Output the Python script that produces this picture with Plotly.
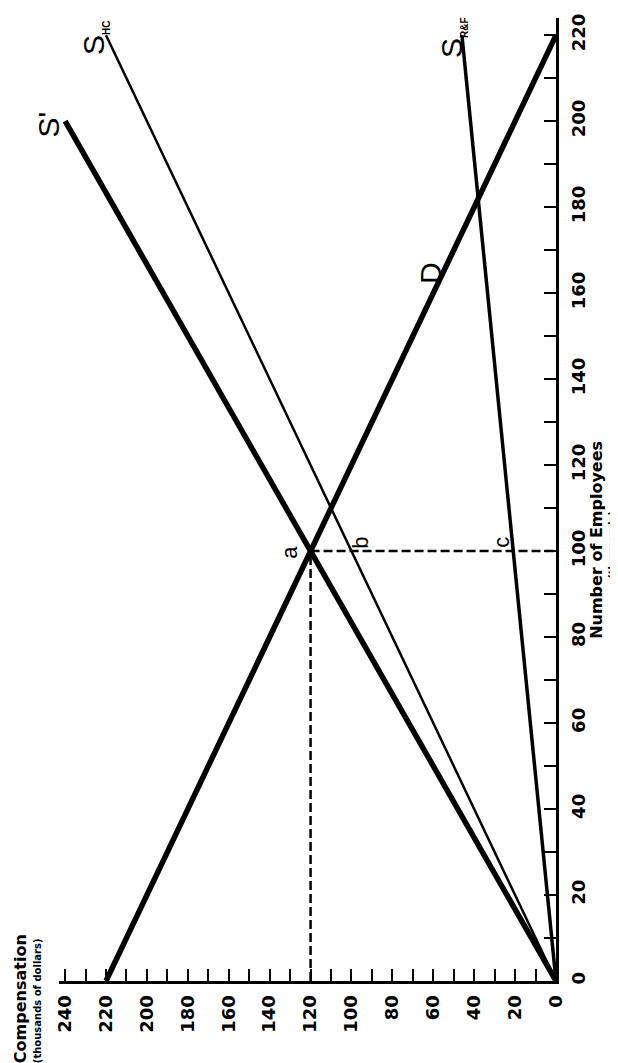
import plotly.graph_objects as go

# ---- data (x = compensation, thousands of dollars; y = employees, thousands) ----
comp_ticks = [0, 20, 40, 60, 80, 100, 120, 140, 160, 180, 200, 220, 240]
emp_ticks = [0, 20, 40, 60, 80, 100, 120, 140, 160, 180, 200, 220]

d_emp = [0, 220]
d_comp = [220, 0]

sprime_emp = [0, 200]
sprime_comp = [0, 240]

shc_emp = [0, 220]
shc_comp = [0, 220]

srf_emp = [0, 220]
srf_comp = [0, 46]

eq_emp = 100
eq_comp = 120

fig = go.Figure()

def add_line(x, y, width, dash=None):
    fig.add_trace(go.Scatter(x=x, y=y, mode="lines",
                             line=dict(color="black", width=width, dash=dash),
                             showlegend=False, hoverinfo="skip"))

add_line(d_comp, d_emp, 5.5)
add_line(sprime_comp, sprime_emp, 5.5)
add_line(shc_comp, shc_emp, 2.5)
add_line(srf_comp, srf_emp, 3.5)
add_line([eq_comp, eq_comp], [0, eq_emp], 2.5, "9px,4px")
add_line([eq_comp, 0], [eq_emp, eq_emp], 2.5, "9px,4px")

tickfont = dict(family="DejaVu Sans", size=18, color="black", weight="bold")

L, R, T, B = 51, 70, 6, 90
W, H = 618, 1063
PW, PH = W - L - R, H - T - B

fig.update_layout(
    width=W, height=H,
    margin=dict(l=L, r=R, t=T, b=B),
    paper_bgcolor="white", plot_bgcolor="white",
    xaxis=dict(range=[243, 0], tickmode="array", tickvals=comp_ticks,
               ticktext=[str(v) for v in comp_ticks], tickangle=-90,
               ticks="inside", ticklen=12, tickwidth=2, tickcolor="black",
               showline=True, linewidth=3, linecolor="black",
               showgrid=False, zeroline=False, tickfont=tickfont,
               ticklabelstandoff=4,
               minor=dict(tickmode="array", tickvals=list(range(10, 240, 20)),
                          ticks="inside", ticklen=12, tickwidth=2, tickcolor="black",
                          showgrid=False)),
    yaxis=dict(range=[0, 224], side="right", tickmode="array", tickvals=emp_ticks,
               ticktext=[str(v) for v in emp_ticks], tickangle=-90,
               ticks="inside", ticklen=12, tickwidth=2, tickcolor="black",
               showline=True, linewidth=3, linecolor="black",
               showgrid=False, zeroline=False, tickfont=tickfont,
               ticklabelstandoff=4,
               minor=dict(tickmode="array", tickvals=list(range(10, 220, 20)),
                          ticks="inside", ticklen=12, tickwidth=2, tickcolor="black",
                          showgrid=False)),
)

ann = []

def label(text, px, py, size, family="Liberation Sans", xanchor="center", yanchor="middle"):
    ann.append(dict(text=text, x=(px - L) / PW, y=(H - B - py) / PH,
                    xref="paper", yref="paper", showarrow=False,
                    textangle=-90, xanchor=xanchor, yanchor=yanchor,
                    font=dict(family=family, size=size, color="black")))

SUB = '<sub><span style="font-size:10px"><b>{}</b></span></sub>'

# curve labels (pixel positions)
label("S'", 41, 113, 30)
label("S" + SUB.format("HC"), 87, 26, 30)
label("S" + SUB.format("R&amp;F"), 445, 26, 30)
label("D", 423, 262, 30)
label("a", 282, 543, 22)
label("b", 353, 533, 22)
label("c", 494, 533, 22)

# axis titles
label("<b>Compensation</b>", 12, 1058, 16, "DejaVu Sans", "center", "bottom")
label("<b>(thousands of dollars)</b>", 29, 1058, 10, "DejaVu Sans", "center", "bottom")
label("<b>Number of Employees</b>", 589, 530, 16, "DejaVu Sans")
label("<b>(thousands)</b>", 605, 535, 10, "DejaVu Sans")

fig.update_layout(annotations=ann)

fig.write_html("out.html")
